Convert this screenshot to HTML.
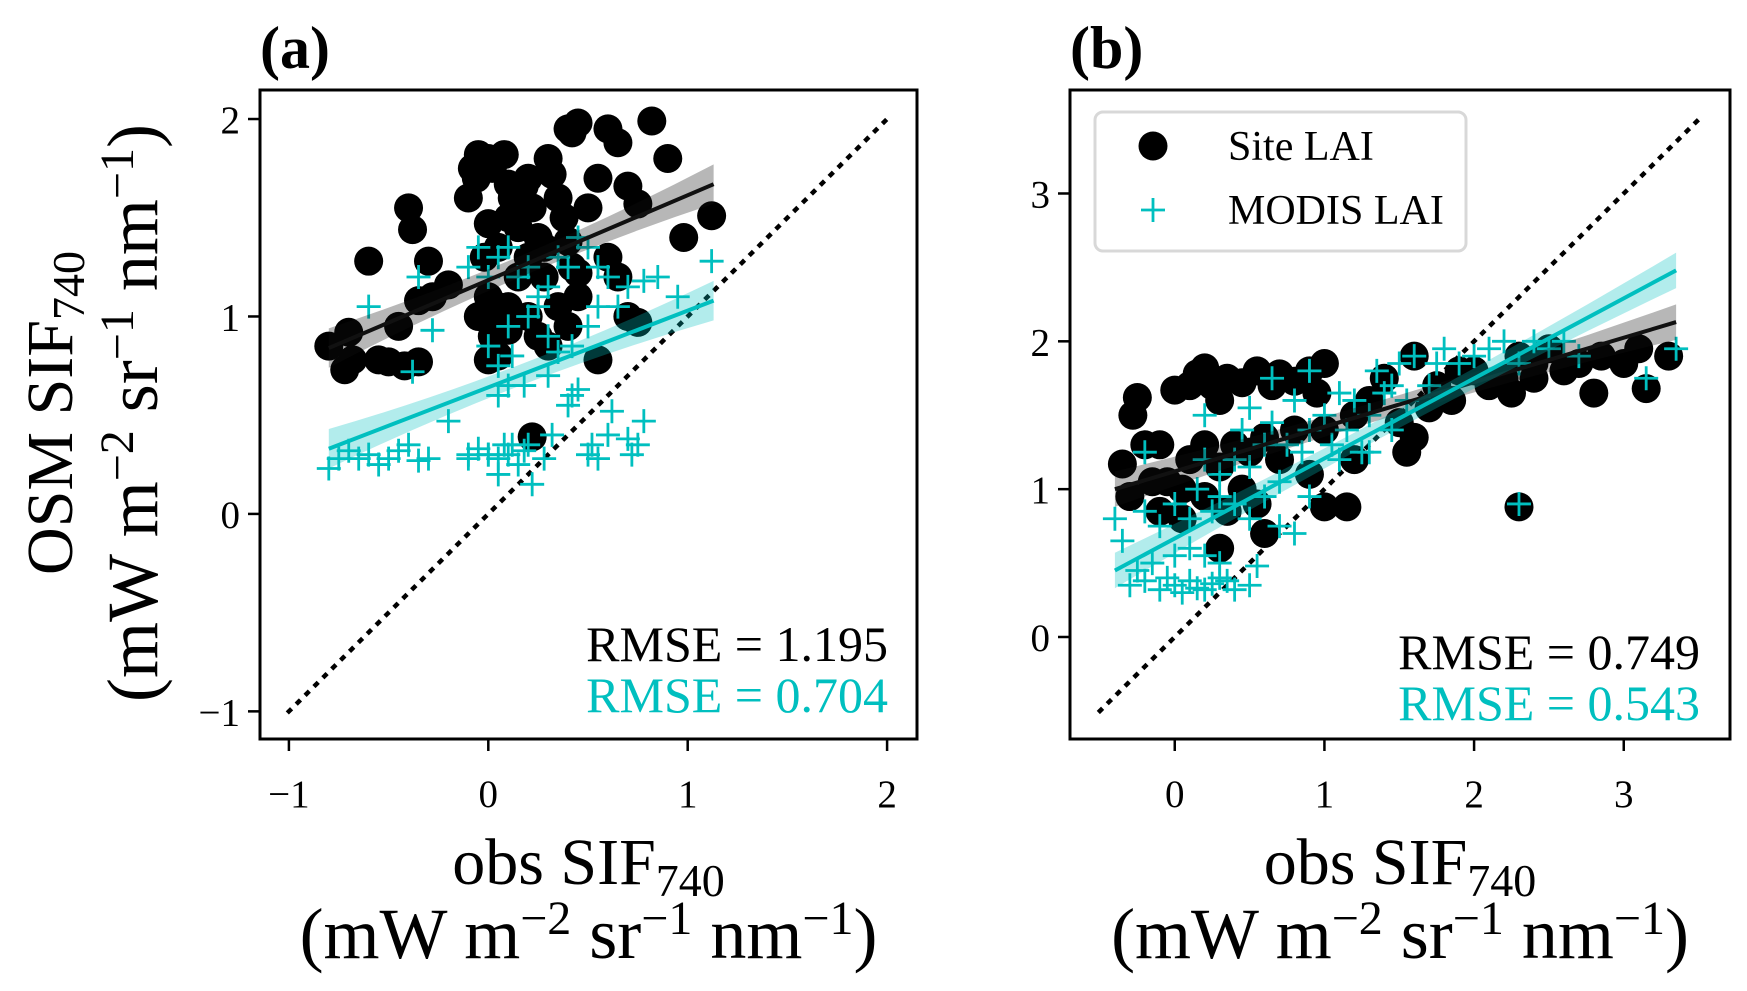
<!DOCTYPE html>
<html><head><meta charset="utf-8"><style>
html,body{margin:0;padding:0;background:#fff;}
svg{display:block;font-family:"Liberation Serif",serif;}
</style></head><body>
<svg id="fig" width="1747" height="991" viewBox="0 0 1747 991" xmlns="http://www.w3.org/2000/svg"></svg>
<script>
const NS="http://www.w3.org/2000/svg";
const svg=document.getElementById('fig');
// ---- Panel (a) data ----
const aSiteX=[-0.8,-0.72,-0.7,-0.68,-0.6,-0.55,-0.5,-0.45,-0.4,-0.38,-0.42,-0.35,-0.3,-0.28,-0.35,-0.2,-0.1,-0.08,-0.05,-0.06,0,0.02,0.08,0.1,0.12,-0.02,0,0.05,0.1,0.15,0.18,0.2,0.22,0.25,0.28,0.3,0.32,0.35,0.4,0.42,0.45,0.38,0.4,0.42,0.45,0.5,0.55,0.6,0.65,0.7,0.75,0.82,0.9,0.98,1.12,0,0.02,0.05,0,0.05,0.1,0.1,0.2,0.25,0.28,0.3,0.4,0.45,0.55,0.65,0.7,0.75,0.6,0.22,0,-0.05,0.15,0.35,0.2];
const aSiteY=[0.85,0.73,0.92,0.78,1.28,0.78,0.77,0.95,1.55,1.44,0.75,0.77,1.28,1.1,1.08,1.16,1.6,1.75,1.82,1.7,1.8,1.75,1.82,1.67,1.6,1.3,1.47,1.35,1.5,1.45,1.66,1.7,1.55,1.4,1.35,1.8,1.72,1.6,1.95,1.93,1.98,1.5,1.38,1.25,1.22,1.55,1.7,1.95,1.88,1.66,1.57,1.99,1.8,1.4,1.51,1.0,0.9,1.05,0.78,0.8,1.05,0.93,1.0,0.9,1.2,0.85,0.95,1.1,0.78,1.2,1.0,0.97,1.3,0.39,1.1,1.0,1.2,1.05,1.3];
const aModX=[-0.8,-0.75,-0.7,-0.65,-0.6,-0.55,-0.5,-0.45,-0.4,-0.3,-0.35,-0.2,-0.1,-0.05,0,0.05,0.08,0.1,0.15,0.18,0.2,0.22,0.28,0.32,0.4,0.42,0.45,0.5,0.52,0.55,0.6,0.62,0.7,0.72,0.75,0.78,-0.6,-0.35,-0.38,-0.28,-0.1,-0.05,0,0.05,0.1,0.15,0.2,0.25,0.3,0.35,0.4,0.45,0.5,0.55,0.6,0.65,0.7,0.78,0.85,0.95,1.12,0,0.05,0.1,0.12,0.18,0.2,0.25,0.3,0.35,0.42,0.5,0.55,0.05,0.1,0.3,0,0.12,0.05,-0.1];
const aModY=[0.23,0.28,0.32,0.28,0.3,0.25,0.28,0.32,0.35,0.28,0.27,0.47,0.3,0.33,0.3,0.28,0.35,0.3,0.25,0.32,0.35,0.15,0.28,0.4,0.55,0.6,0.63,0.3,0.35,0.28,0.4,0.52,0.38,0.3,0.35,0.47,1.05,1.2,0.72,0.93,1.25,1.35,1.2,1.3,1.35,1.2,1.25,1.1,1.15,1.3,1.25,1.4,1.35,1.25,1.2,1.05,1.15,1.18,1.2,1.1,1.28,0.85,0.75,0.95,0.8,0.65,1.0,1.05,0.9,0.82,0.85,0.95,1.05,0.6,0.65,0.7,0.3,0.35,0.2,0.28];
const aFitX=[-0.8,1.13];
const aSiteFit=[0.84,1.67];
const aModFit=[0.33,1.08];
const aTicks=[-1,0,1,2];
const aRmse=["RMSE = 1.195","RMSE = 0.704"];
// ---- Panel (b) data ----
const bSiteX=[-0.35,-0.28,-0.25,-0.3,-0.2,-0.15,-0.1,-0.05,0,0.05,0.1,0.15,0.2,0.25,0.3,0.35,0.45,0.55,0.65,0.7,0.8,0.9,1.0,0.95,1.0,1.15,0.1,0.2,0.3,0.4,0.5,0.6,0.7,0.8,0.9,0.2,0.35,0.45,0.55,-0.1,0.05,1.2,1.3,1.4,1.5,1.55,1.6,1.7,1.75,1.85,1.9,2.0,2.1,2.2,2.25,2.3,2.4,2.5,2.6,2.7,2.8,2.85,3.0,3.1,3.15,3.3,2.3,1.6,2.4,1.2,1.0,0.6,0.3];
const bSiteY=[1.17,1.5,1.62,0.95,1.3,1.05,1.3,1.05,1.67,1.0,1.7,1.78,1.82,1.7,1.6,1.75,1.72,1.8,1.7,1.78,1.73,1.8,1.85,1.65,0.88,0.88,1.2,1.3,1.15,1.3,1.25,1.35,1.2,1.4,1.1,0.95,0.85,1.0,0.9,0.85,0.8,1.5,1.6,1.75,1.45,1.25,1.35,1.55,1.7,1.6,1.8,1.8,1.7,1.75,1.65,1.9,1.85,1.95,1.8,1.85,1.65,1.9,1.85,1.95,1.68,1.9,0.88,1.9,1.75,1.2,1.4,0.7,0.6];
const bModX=[-0.4,-0.35,-0.3,-0.25,-0.2,-0.15,-0.1,-0.05,0,0.05,0.1,0.15,0.2,0.25,0.3,0.35,0.4,0.5,0.55,0,0.1,0.2,0.3,-0.2,-0.1,0,0.1,0.15,0.25,0.3,0.4,0.5,0.6,0.7,0.8,0.9,-0.2,0.2,0.3,0.4,0.5,0.6,0.65,0.7,0.75,0.85,0.9,1.0,1.05,1.1,1.15,1.2,1.25,1.3,1.35,1.4,1.45,1.5,1.55,1.6,1.7,1.75,1.8,1.9,2.0,2.1,2.2,2.3,2.4,2.5,2.6,2.7,3.15,3.35,0.65,0.9,1.1,1.3,1.45,2.3,0.5,0.8,0.2,0.45];
const bModY=[0.8,0.65,0.35,0.45,0.38,0.5,0.32,0.4,0.35,0.3,0.38,0.33,0.32,0.36,0.4,0.38,0.32,0.35,0.48,0.55,0.6,0.55,0.5,0.85,0.75,0.9,0.8,1.0,0.85,0.95,0.9,0.8,0.95,0.75,0.7,0.95,1.25,1.5,1.1,1.2,1.15,1.3,1.45,1.05,1.3,1.25,1.4,1.5,1.3,1.2,1.4,1.6,1.25,1.5,1.8,1.65,1.7,1.85,1.6,1.9,1.7,1.85,1.95,1.85,1.9,1.95,2.0,1.85,2.0,1.95,2.0,1.9,1.75,1.95,1.75,1.8,1.65,1.25,1.4,0.9,1.55,1.6,1.2,1.4];
const bFitX=[-0.4,3.35];
const bSiteFit=[1.0,2.13];
const bModFit=[0.45,2.48];
const bTicks=[0,1,2,3];
const bRmse=["RMSE = 0.749","RMSE = 0.543"];

const CY="#00bfbf";
function el(tag,attrs,parent){const e=document.createElementNS(NS,tag);for(const k in attrs)e.setAttribute(k,attrs[k]);(parent||svg).appendChild(e);return e;}
function lin(d0,d1,p0,p1){return v=>p0+(v-d0)*(p1-p0)/(d1-d0);}
const UNITS=(s,dy)=>`(mW m<tspan font-size="${s}" dy="-${dy}">\u22122</tspan><tspan dy="${dy}"> sr</tspan><tspan font-size="${s}" dy="-${dy}">\u22121</tspan><tspan dy="${dy}"> nm</tspan><tspan font-size="${s}" dy="-${dy}">\u22121</tspan><tspan dy="${dy}">)</tspan>`;

function panel(o){
  const g=el('g',{});
  
  
  const X=lin(o.xr[0],o.xr[1],o.L,o.R), Y=lin(o.yr[0],o.yr[1],o.B,o.T);
  const d=el('line',{x1:X(o.id[0]),y1:Y(o.id[0]),x2:X(o.id[1]),y2:Y(o.id[1]),stroke:'#000','stroke-width':4.5,'stroke-dasharray':'1.5 11','stroke-linecap':'square'},g);
  
  for(let i=0;i<o.sx.length;i++){
    const c=el('circle',{cx:X(o.sx[i]),cy:Y(o.sy[i]),r:14.5,fill:'#000'},g);
    
    
  }
  for(let i=0;i<o.mx.length;i++){
    const x=X(o.mx[i]),y=Y(o.my[i]);
    const p=el('path',{d:`M${x-12} ${y}H${x+12}M${x} ${y-12}V${y+12}`,stroke:CY,'stroke-width':2.8,fill:'none'},g);
    
    
  }
  function fit(ys,col,op,nm){
    const x0=o.fx[0],x1=o.fx[1],xm=(x0+x1)/2,ym=(ys[0]+ys[1])/2,w=o.band,wm=o.band*0.35;
    const band=el('path',{d:`M${X(x0)} ${Y(ys[0]+w)}Q${X(xm)} ${Y(ym+wm*0.2)} ${X(x1)} ${Y(ys[1]+w)}L${X(x1)} ${Y(ys[1]-w)}Q${X(xm)} ${Y(ym-wm*0.2)} ${X(x0)} ${Y(ys[0]-w)}Z`,fill:col,opacity:op},g);
    
    const l=el('line',{x1:X(x0),y1:Y(ys[0]),x2:X(x1),y2:Y(ys[1]),stroke:col,'stroke-width':4},g);
    
  }
  fit(o.sf,'#111',0.3,'site-lai');
  fit(o.mf,CY,0.3,'modis-lai');
  const f=el('rect',{x:o.L,y:o.T,width:o.R-o.L,height:o.B-o.T,fill:'none',stroke:'#000','stroke-width':3},g);
  
  o.xt.forEach(t=>{
    el('line',{x1:X(t),y1:o.B,x2:X(t),y2:o.B+12,stroke:'#000','stroke-width':2.5},g);
    const tx=el('text',{x:X(t),y:o.B+68,'font-size':39,'text-anchor':'middle'},g);
    tx.textContent=t<0?'\u2212'+(-t):String(t);
    
  });
  o.yt.forEach(t=>{
    el('line',{x1:o.L-12,y1:Y(t),x2:o.L,y2:Y(t),stroke:'#000','stroke-width':2.5},g);
    const ty=el('text',{x:o.L-20,y:Y(t)+14,'font-size':39,'text-anchor':'end'},g);
    ty.textContent=t<0?'\u2212'+(-t):String(t);
    
  });
  const r1=el('text',{x:o.rx,y:o.ry,'font-size':50,'text-anchor':'end',fill:'#000'},g);
  r1.textContent=o.rm[0];
  const r2=el('text',{x:o.rx,y:o.ry+51,'font-size':50,'text-anchor':'end',fill:CY},g);
  r2.textContent=o.rm[1];
  const tt=el('text',{x:o.L,y:68,'font-size':60,'font-weight':'bold'},g);
  tt.textContent=o.title;
  const cx=(o.L+o.R)/2;
  const xl=el('text',{x:cx,y:884,'font-size':66,'text-anchor':'middle'},g);
  xl.innerHTML='obs SIF<tspan font-size="46" dy="12">740</tspan>';
  
  const xu=el('text',{x:cx,y:958,'font-size':72,'text-anchor':'middle'},g);
  xu.innerHTML=UNITS(48,24);
  
}

panel({name:'panel-a',L:260,R:917,T:90,B:739,xr:[-1.145,2.15],yr:[-1.14,2.147],id:[-1,2],
  sx:aSiteX,sy:aSiteY,mx:aModX,my:aModY,fx:aFitX,sf:aSiteFit,mf:aModFit,band:0.1,
  xt:aTicks,yt:aTicks,rm:aRmse,rx:888,ry:661,title:'(a)'});
panel({name:'panel-b',L:1070,R:1730,T:90,B:739,xr:[-0.70,3.71],yr:[-0.69,3.70],id:[-0.5,3.5],
  sx:bSiteX,sy:bSiteY,mx:bModX,my:bModY,fx:bFitX,sf:bSiteFit,mf:bModFit,band:0.12,
  xt:bTicks,yt:bTicks,rm:bRmse,rx:1700,ry:669,title:'(b)'});

const yl=el('text',{transform:'translate(72,413) rotate(-90)','font-size':66,'text-anchor':'middle'});
yl.innerHTML='OSM SIF<tspan font-size="46" dy="12">740</tspan>';


const yu=el('text',{transform:'translate(157,413) rotate(-90)','font-size':72,'text-anchor':'middle'});
yu.innerHTML=UNITS(48,24);



const lg=el('g',{});


el('rect',{x:1095,y:112,width:371,height:139,rx:8,fill:'#fff','fill-opacity':0.85,stroke:'#d8d8d8','stroke-width':3},lg);
const lc=el('circle',{cx:1153,cy:146,r:14.5,fill:'#000'},lg);


const lt1=el('text',{x:1228,y:160,'font-size':42},lg);
lt1.textContent='Site LAI';


const lp=el('path',{d:'M1141 210H1165M1153 198V222',stroke:CY,'stroke-width':2.8},lg);


const lt2=el('text',{x:1228,y:224,'font-size':42},lg);
lt2.textContent='MODIS LAI';


</script>
</body></html>
